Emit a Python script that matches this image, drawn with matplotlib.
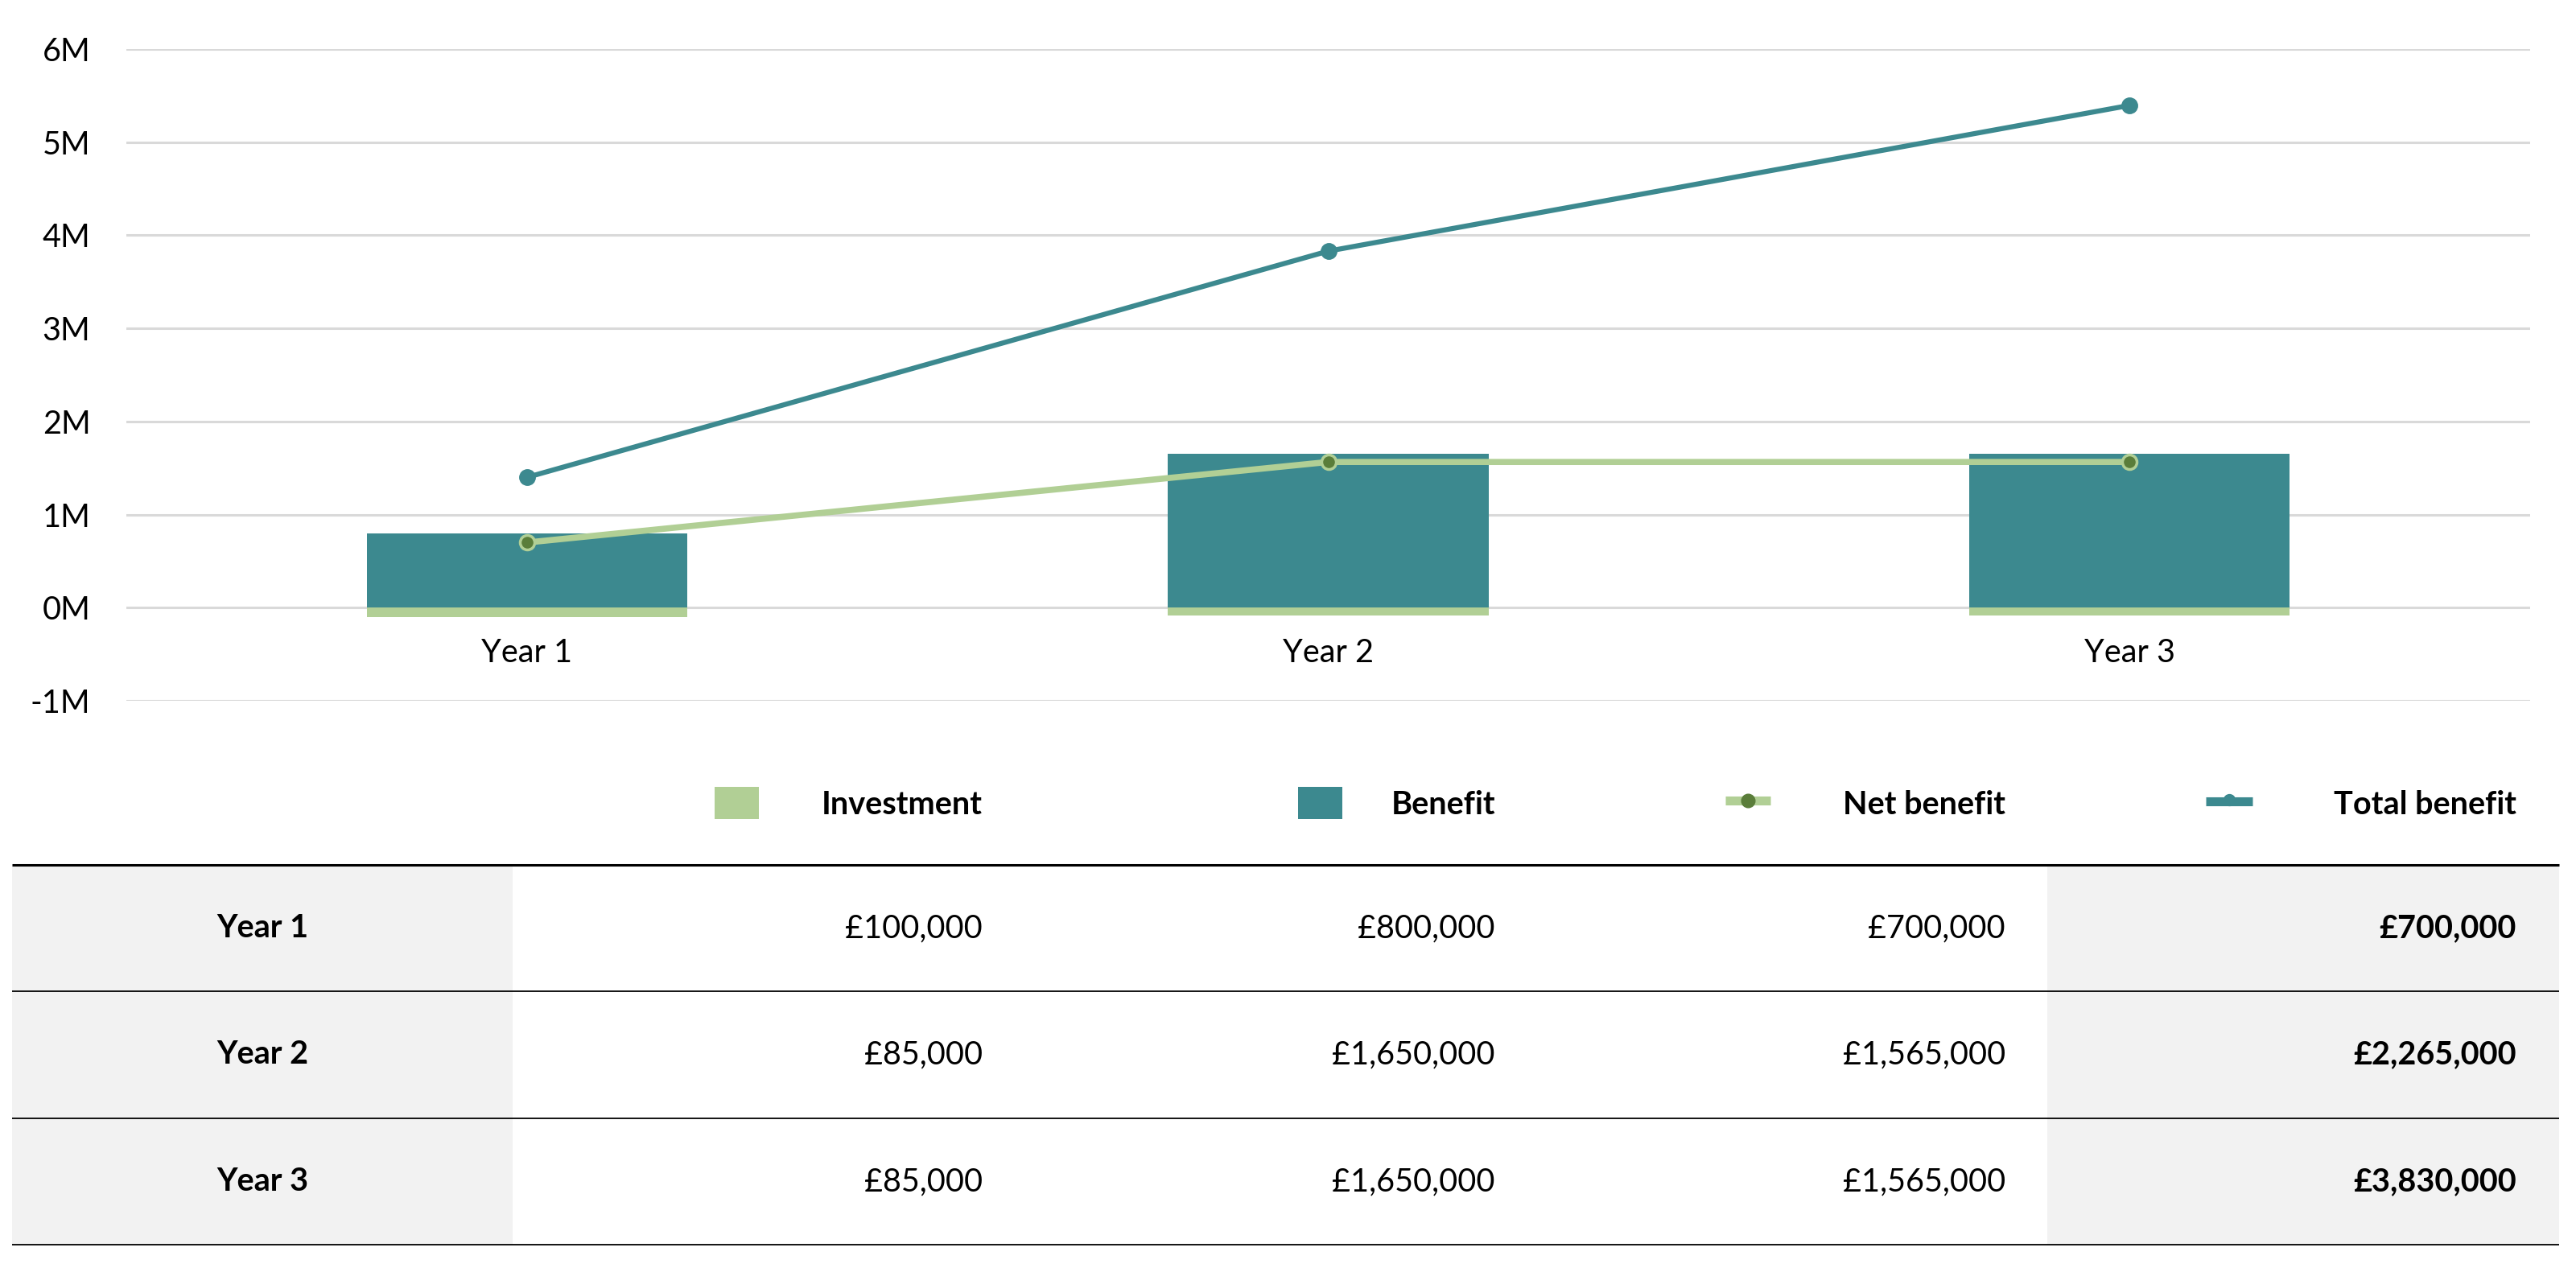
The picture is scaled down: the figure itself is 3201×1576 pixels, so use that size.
import matplotlib.pyplot as plt
from matplotlib.patches import Rectangle
from matplotlib.ticker import FuncFormatter

plt.rcParams['font.family'] = ['Lato', 'DejaVu Sans']

years = ['Year 1', 'Year 2', 'Year 3']
investment = [100000, 85000, 85000]
benefit = [800000, 1650000, 1650000]
net_benefit = [700000, 1565000, 1565000]
total_benefit = [700000, 2265000, 3830000]
total_line = [1400000, 3830000, 5395000]
series_names = ['Investment', 'Benefit', 'Net benefit', 'Total benefit']

TEAL = '#3c898f'
GREEN = '#b1cf95'
DARK_GREEN = '#5a7d3a'
GRID = '#d9d9d9'
FS = 28.5

fig = plt.figure(figsize=(32.01, 15.76), dpi=100)

# overlay axes in pixel units for the legend row and the table
tb = fig.add_axes([0, 0, 1, 1], zorder=0)
tb.set_xlim(0, 3201)
tb.set_ylim(1576, 0)
tb.axis('off')

ax = fig.add_axes([157 / 3201, 1 - 871 / 1576, (3144 - 157) / 3201, (871 - 61) / 1576], zorder=1)
ax.patch.set_alpha(0)

x = list(range(len(years)))
ax.bar(x, benefit, width=0.4, color=TEAL, zorder=2)
ax.bar(x, [-v for v in investment], width=0.4, color=GREEN, zorder=2)
ax.plot(x, net_benefit, color=GREEN, lw=5.5, marker='o', ms=13,
        mfc=DARK_GREEN, mec=GREEN, mew=2.5, zorder=3)
ax.plot(x, total_line, color=TEAL, lw=4.5, marker='o', ms=14,
        mfc=TEAL, mec=TEAL, zorder=4)

ax.set_xlim(-0.5, len(years) - 0.5)
ax.set_ylim(-1e6, 6e6)
ax.set_yticks([i * 1e6 for i in range(-1, 7)])
ax.yaxis.set_major_formatter(FuncFormatter(lambda v, p: f'{v / 1e6:.0f}M'))
ax.grid(axis='y', color=GRID, lw=2.2, zorder=0)
ax.set_axisbelow(True)
for s in ['top', 'right', 'left']:
    ax.spines[s].set_visible(False)
ax.spines['bottom'].set_position(('data', 0))
ax.spines['bottom'].set_visible(False)
ax.set_xticks(x)
ax.set_xticklabels(years)
ax.tick_params(axis='both', length=0, labelsize=FS, colors='black')
ax.tick_params(axis='y', pad=32)
ax.tick_params(axis='x', pad=27)

# legend row
col_right = [1221, 1858, 2492, 3127]
leg_y = 998
tb.add_patch(Rectangle((888, leg_y - 20), 55, 40, color=GREEN, lw=0))
tb.add_patch(Rectangle((1613, leg_y - 20), 55, 40, color=TEAL, lw=0))
tb.plot([2144, 2200], [995, 995], color=GREEN, lw=8, solid_capstyle='butt')
tb.plot([2172], [995], 'o', ms=12, color=DARK_GREEN)
tb.plot([2741, 2799], [996, 996], color=TEAL, lw=8, solid_capstyle='butt')
tb.plot([2770], [994], 'o', ms=10, color=TEAL)
for name, xr in zip(series_names, col_right):
    tb.text(xr, 1000, name, ha='right', va='center', fontsize=FS, fontweight='bold')

# table
row_lines = [1075, 1232, 1390, 1547]
tb.add_patch(Rectangle((15, 1075), 622, 1547 - 1075, color='#f2f2f2', lw=0))
tb.add_patch(Rectangle((2544, 1075), 636, 1547 - 1075, color='#f2f2f2', lw=0))
for i, yl in enumerate(row_lines):
    tb.plot([15, 3180], [yl, yl], color='black', lw=2.2 if i == 0 else 1.3, solid_capstyle='butt')

for i, yr in enumerate(years):
    yc = (row_lines[i] + row_lines[i + 1]) / 2
    tb.text(326, yc, yr, ha='center', va='center', fontsize=FS, fontweight='bold')
    vals = [investment[i], benefit[i], net_benefit[i], total_benefit[i]]
    for j, (v, xr) in enumerate(zip(vals, col_right)):
        tb.text(xr, yc, f'£{v:,.0f}', ha='right', va='center', fontsize=FS,
                fontweight='bold' if j == 3 else 'normal')

fig.savefig('out.png', dpi=100)
